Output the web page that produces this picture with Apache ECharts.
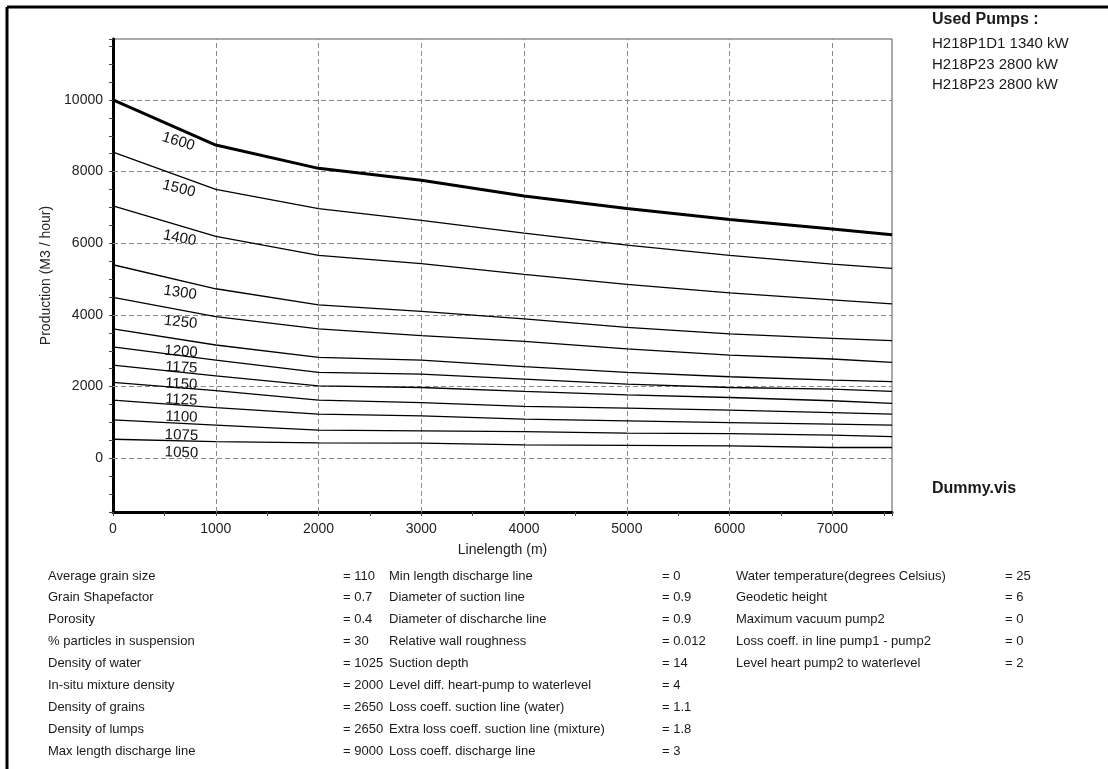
<!DOCTYPE html>
<html><head><meta charset="utf-8">
<script src="https://cdn.jsdelivr.net/npm/echarts@6/dist/echarts.min.js"></script>
<style>html,body{margin:0;padding:0;background:#fff}#c{width:1108px;height:769px}</style>
</head><body><div id="c"></div>
<script>
// ---- data ----
const lineLengths = [0, 1000, 2000, 3000, 4000, 5000, 6000, 7000, 7580];
const curve1600 = [10000, 8740, 8090, 7760, 7320, 6970, 6660, 6400, 6240];
const curve1500 = [8540, 7505, 6965, 6640, 6280, 5950, 5660, 5420, 5300];
const curve1400 = [7040, 6190, 5660, 5430, 5130, 4850, 4615, 4420, 4310];
const curve1300 = [5400, 4730, 4280, 4100, 3890, 3650, 3470, 3345, 3280];
const curve1250 = [4490, 3950, 3610, 3420, 3260, 3050, 2880, 2770, 2675];
const curve1200 = [3610, 3160, 2815, 2740, 2555, 2395, 2275, 2180, 2140];
const curve1175 = [3110, 2740, 2395, 2350, 2210, 2070, 1975, 1930, 1865];
const curve1150 = [2600, 2300, 2020, 1975, 1865, 1770, 1695, 1605, 1530];
const curve1125 = [2115, 1885, 1620, 1555, 1445, 1400, 1345, 1275, 1230];
const curve1100 = [1620, 1415, 1230, 1185, 1090, 1045, 995, 950, 925];
const curve1075 = [1070, 925, 785, 765, 745, 700, 690, 645, 605];
const curve1050 = [530, 465, 430, 420, 375, 360, 345, 300, 300];
const curveNames = ['1600','1500','1400','1300','1250','1200','1175','1150','1125','1100','1075','1050'];
const curveValues = [curve1600, curve1500, curve1400, curve1300, curve1250, curve1200, curve1175, curve1150, curve1125, curve1100, curve1075, curve1050];

const xGridTicks = [1000, 2000, 3000, 4000, 5000, 6000, 7000];
const yGridTicks = [0, 2000, 4000, 6000, 8000, 10000];

const pumpsTitle = 'Used Pumps :';
const pumps = ['H218P1D1 1340 kW', 'H218P23 2800 kW', 'H218P23 2800 kW'];
const fileName = 'Dummy.vis';

const paramNames1 = ['Average grain size','Grain Shapefactor','Porosity','% particles in suspension','Density of water','In-situ mixture density','Density of grains','Density of lumps','Max length discharge line'];
const paramValues1 = ['110','0.7','0.4','30','1025','2000','2650','2650','9000'];
const paramNames2 = ['Min length discharge line','Diameter of suction line','Diameter of discharche line','Relative wall roughness','Suction depth','Level diff. heart-pump to waterlevel','Loss coeff. suction line (water)','Extra loss coeff. suction line (mixture)','Loss coeff. discharge line'];
const paramValues2 = ['0','0.9','0.9','0.012','14','4','1.1','1.8','3'];
const paramNames3 = ['Water temperature(degrees Celsius)','Geodetic height','Maximum vacuum pump2','Loss coeff. in line pump1 - pump2','Level heart pump2 to waterlevel'];
const paramValues3 = ['25','6','0','0','2'];

// ---- style ----
const FONT = '"Liberation Sans", Arial, sans-serif';
const labelRotate = [-17, -14, -11, -8, -6, -4, -3, -3, -3, -2, -2, -2];
const labelX = 670;

function interp(xs, ys, x) {
  for (let i = 0; i < xs.length - 1; i++) {
    if (x >= xs[i] && x <= xs[i + 1]) {
      const t = (x - xs[i]) / (xs[i + 1] - xs[i]);
      return ys[i] + t * (ys[i + 1] - ys[i]);
    }
  }
  return ys[ys.length - 1];
}

const series = curveNames.map((name, k) => ({
  name: name,
  type: 'line',
  data: lineLengths.map((x, i) => [x, curveValues[k][i]]),
  symbol: 'none',
  lineStyle: { color: '#000', width: k === 0 ? 3 : 1.3 },
  z: 5,
  markPoint: {
    symbol: 'circle', symbolSize: 0, silent: true,
    data: [{ coord: [labelX, interp(lineLengths, curveValues[k], labelX)] }],
    label: {
      show: true, formatter: name, position: 'inside', offset: [0, 12],
      rotate: labelRotate[k], fontSize: 15, fontFamily: FONT, color: '#111'
    }
  }
}));

// grid lines
series.push({
  type: 'line', data: [], silent: true, z: 1,
  markLine: {
    symbol: 'none', silent: true, label: { show: false },
    lineStyle: { color: '#8a8a8a', type: [5, 3], width: 1 },
    data: xGridTicks.map(v => ({ xAxis: v })).concat(yGridTicks.map(v => ({ yAxis: v })))
  }
});

const graphics = [];
graphics.push({ type: 'line', shape: { x1: 7, y1: 7, x2: 1108, y2: 7 }, style: { stroke: '#000', lineWidth: 3 } });
graphics.push({ type: 'line', shape: { x1: 7, y1: 7, x2: 7, y2: 769 }, style: { stroke: '#000', lineWidth: 3 } });
function txt(t, x, y, font) {
  graphics.push({ type: 'text', x: x, y: y, style: { text: t, font: font, fill: '#1a1a1a', verticalAlign: 'middle' } });
}
txt(pumpsTitle, 932, 20, 'bold 16px ' + FONT);
pumps.forEach((p, i) => txt(p, 932, 44 + i * 20.5, '15px ' + FONT));
txt(fileName, 932, 489, 'bold 16px ' + FONT);
const rowY0 = 576, rowH = 21.9;
paramNames1.forEach((n, i) => { txt(n, 48, rowY0 + i * rowH, '13px ' + FONT); txt('= ' + paramValues1[i], 343, rowY0 + i * rowH, '13px ' + FONT); });
paramNames2.forEach((n, i) => { txt(n, 389, rowY0 + i * rowH, '13px ' + FONT); txt('= ' + paramValues2[i], 662, rowY0 + i * rowH, '13px ' + FONT); });
paramNames3.forEach((n, i) => { txt(n, 736, rowY0 + i * rowH, '13px ' + FONT); txt('= ' + paramValues3[i], 1005, rowY0 + i * rowH, '13px ' + FONT); });

const chart = echarts.init(document.getElementById('c'));
chart.setOption({
  animation: false,
  backgroundColor: '#fff',
  grid: { left: 113, top: 39, right: 216, bottom: 257, show: true, borderColor: '#555', borderWidth: 1 },
  xAxis: {
    type: 'value', min: 0, max: 7580, interval: 500,
    name: 'Linelength (m)', nameLocation: 'middle', nameGap: 31,
    nameTextStyle: { fontSize: 14, fontFamily: FONT, color: '#222' },
    axisLine: { show: true, onZero: false, lineStyle: { color: '#000', width: 3 } },
    axisTick: { show: true, length: 4, lineStyle: { color: '#444' } },
    axisLabel: { fontSize: 14, fontFamily: FONT, color: '#222', margin: 10,
      formatter: v => (v % 1000 === 0 ? String(v) : '') },
    splitLine: { show: false }
  },
  yAxis: {
    type: 'value', min: -1500, max: 11700, interval: 500,
    name: 'Production (M3 / hour)', nameLocation: 'middle', nameGap: 52,
    nameTextStyle: { fontSize: 14, fontFamily: FONT, color: '#222' },
    axisLine: { show: true, onZero: false, lineStyle: { color: '#000', width: 3 } },
    axisTick: { show: true, length: 4, lineStyle: { color: '#444' } },
    axisLabel: { fontSize: 14, fontFamily: FONT, color: '#222', margin: 10,
      formatter: v => (v % 2000 === 0 ? String(v) : '') },
    splitLine: { show: false }
  },
  series: series,
  graphic: graphics
});
</script></body></html>
